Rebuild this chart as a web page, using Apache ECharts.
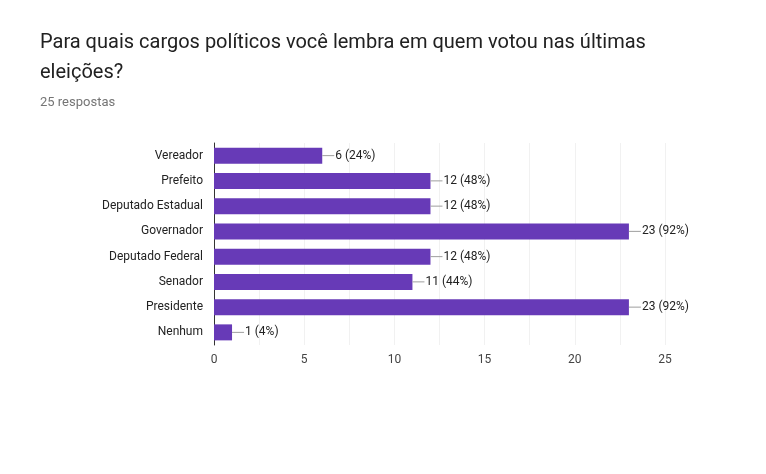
<!DOCTYPE html>
<html>
<head>
<meta charset="utf-8">
<script src="https://cdn.jsdelivr.net/npm/echarts@6/dist/echarts.min.js"></script>
<style>
  html, body { margin: 0; padding: 0; background: #fff; }
  #chart { width: 766px; height: 474px; }
</style>
</head>
<body>
<div id="chart"></div>
<script>
const categories = ['Vereador', 'Prefeito', 'Deputado Estadual', 'Governador', 'Deputado Federal', 'Senador', 'Presidente', 'Nenhum']
const counts = [6, 12, 12, 23, 12, 11, 23, 1]
const total = 25
const xTicks = [0, 5, 10, 15, 20, 25]

const chart = echarts.init(document.getElementById('chart'), null, { renderer: 'canvas' })

chart.setOption({
  backgroundColor: '#ffffff',
  animation: false,
  textStyle: { fontFamily: 'Roboto, Arial, sans-serif' },
  title: [
    {
      text: 'Para quais cargos políticos você lembra em quem votou nas últimas\neleições?',
      left: 40, top: 28, padding: 0,
      textStyle: { fontSize: 20, fontWeight: 'normal', color: '#212121', lineHeight: 30, fontFamily: 'Roboto' },
    },
    {
      text: total + ' respostas',
      left: 40, top: 96, padding: 0,
      textStyle: { fontSize: 13, fontWeight: 'normal', color: '#757575', fontFamily: 'Roboto' },
    },
  ],
  grid: { left: 214, right: 101, top: 143, bottom: 129, containLabel: false },
  xAxis: {
    type: 'value',
    min: 0, max: 25, interval: 2.5,
    axisLine: { show: false },
    axisTick: { show: false },
    axisLabel: {
      fontSize: 12, color: '#444', margin: 9,
      formatter: v => xTicks.includes(v) ? String(v) : '',
    },
    splitLine: { lineStyle: { color: '#f1f1f1', width: 1 } },
  },
  yAxis: {
    type: 'category',
    inverse: true,
    data: categories,
    axisLine: { show: true, lineStyle: { color: '#333', width: 1 } },
    axisTick: { show: false },
    axisLabel: { fontSize: 12, color: '#222', margin: 11 },
    splitLine: { show: false },
  },
  series: [{
    type: 'bar',
    data: counts,
    barWidth: 16,
    itemStyle: { color: '#673ab7' },
    label: {
      show: true,
      position: 'right',
      distance: 0,
      formatter: p => '{ln|}{t|' + p.value + ' (' + Math.round(p.value / total * 100) + '%)}',
      rich: {
        ln: { width: 12, height: 1, backgroundColor: '#9e9e9e' },
        t: { fontSize: 12, color: '#222', padding: [0, 0, 0, 1] },
      },
    },
  }],
})
</script>
</body>
</html>
